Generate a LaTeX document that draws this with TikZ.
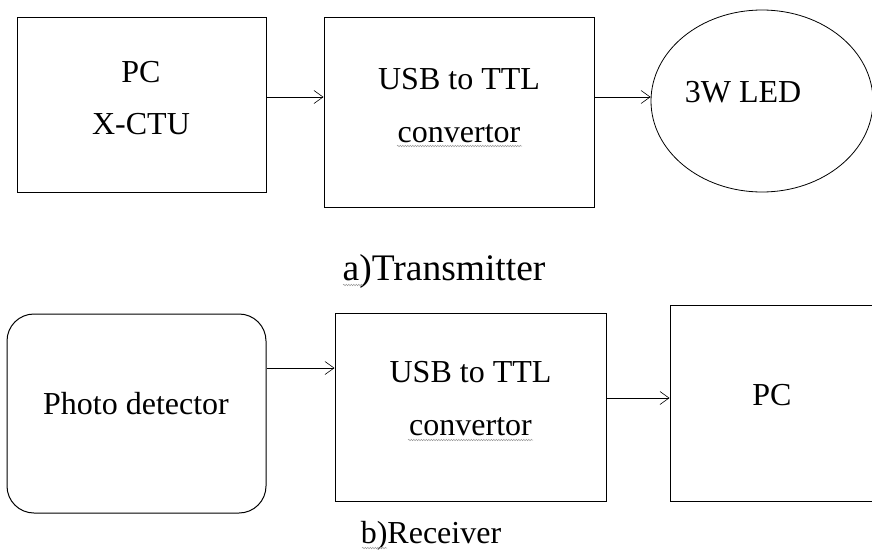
\documentclass[tikz,border=0pt]{standalone}
\usepackage{fontspec}
\setmainfont{Liberation Serif}
\usepackage{tikz}
\usetikzlibrary{arrows,arrows.meta,shapes,positioning}
\usetikzlibrary{shapes.geometric,decorations.pathmorphing}
\tikzset{blk/.style={draw,line width=1pt,rectangle,inner sep=0pt},
  lbl/.style={font=\fontsize{32}{52.5}\selectfont,align=center,inner sep=0pt},
  conn/.style={-{Straight Barb[length=9pt,width=13pt]},line width=0.6pt},
  squig/.style={gray!80,line width=0.5pt,decorate,decoration={snake,segment length=2.5pt,amplitude=0.7pt}}}
\begin{document}
\begin{tikzpicture}[x=1pt,y=-1pt]
      \useasboundingbox (0,0) rectangle (872,551);
      \node[blk,minimum width=249pt,minimum height=174pt] (pcx) at (141.5,105) {};
      \node[blk,minimum width=270pt,minimum height=189pt] (usbt) at (459,112.5) {};
      \node[draw,line width=0.8pt,ellipse,inner sep=0pt,minimum width=222pt,minimum height=182pt] (led) at (762,101) {};
      \node[blk,rounded corners=27pt,minimum width=259pt,minimum height=199pt] (pd) at (136.5,413.5) {};
      \node[blk,minimum width=271pt,minimum height=188pt] (usbr) at (470.5,407) {};
      \node[blk,minimum width=204pt,minimum height=196pt] (pcr) at (772,403) {};
      \node[lbl] (pcxt) at (141,97.9) {PC\\X-CTU};
      \node[lbl] (usbtt) at (459,105.4) {USB to TTL\\convertor};
      \node[lbl] (ledt) at (743,92.4) {3W LED};
      \node[lbl] (pdt) at (136,404) {Photo detector};
      \node[lbl] (usbrt) at (470.5,398.4) {USB to TTL\\convertor};
      \node[lbl] (pcrt) at (772,395.4) {PC};
      \node[lbl,font=\fontsize{37.5}{45}\selectfont,anchor=base] (tx) at (444,280) {a)Transmitter};
      \node[lbl,anchor=base] (rx) at (431,543) {b)Receiver};
      \draw[conn] ([yshift=8pt]pcx.east) -- ([yshift=15.5pt]usbt.west);
      \draw[conn] ([yshift=15.5pt]usbt.east) -- ([yshift=4pt]led.west);
      \draw[conn] ([yshift=45.5pt]pd.east) -- ([yshift=39pt]usbr.west);
      \draw[conn] ([yshift=9pt]usbr.east) -- ([yshift=5pt]pcr.west);
      \draw[squig] (397,146) -- (522,146);
      \draw[squig] (408,440) -- (533,440);
      \draw[squig] (343,285) -- (363,285);
      \draw[squig] (362,548) -- (387,548);
    \end{tikzpicture}
\end{document}
